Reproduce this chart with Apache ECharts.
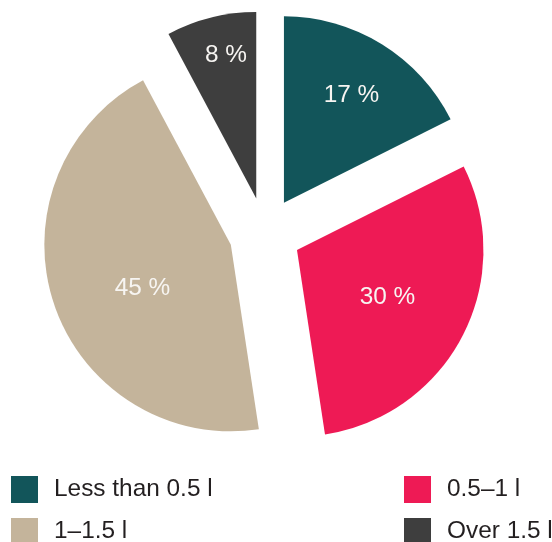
<!DOCTYPE html>
<html>
<head>
<meta charset="utf-8">
<script src="https://cdn.jsdelivr.net/npm/echarts@6/dist/echarts.min.js"></script>
<style>
html,body{margin:0;padding:0;background:#fff;}
#chart{width:552px;height:542px;}
</style>
</head>
<body>
<div id="chart"></div>
<script>
// Data (shares; labels show rounded values)
var categories = ['Less than 0.5 l', '0.5–1 l', '1–1.5 l', 'Over 1.5 l'];
var shares = [17.6, 30.0, 44.6, 7.8];
var shareLabels = ['17 %', '30 %', '45 %', '8 %'];

// Styles (not data)
var colors = ['#12555a', '#ee1a55', '#c4b49b', '#3e3e3e'];
var labelShift = [[17, -26], [5, 3], [3, 13], [-7, -50]];

var chart = echarts.init(document.getElementById('chart'), null, {renderer: 'canvas'});

var pieData = categories.map(function (c, i) {
  return {
    name: c,
    value: shares[i],
    selected: true,
    itemStyle: {color: colors[i]}
  };
});

var font = 'Liberation Sans, Arial, Helvetica, sans-serif';

var legendBase = {
  orient: 'vertical',
  icon: 'rect',
  itemWidth: 27,
  itemHeight: 27,
  itemGap: 15,
  top: 476,
  height: 90,
  padding: 0,
  selectedMode: false,
  textStyle: {fontFamily: font, fontSize: 24.4, color: '#231f20', padding: [0, 0, 0, 11]}
};

chart.setOption({
  animation: false,
  backgroundColor: '#ffffff',
  legend: [
    Object.assign({}, legendBase, {left: 11, data: [categories[0], categories[2]]}),
    Object.assign({}, legendBase, {left: 404, data: [categories[1], categories[3]]})
  ],
  series: [{
    type: 'pie',
    center: [265, 233.5],
    radius: [0, 186.5],
    startAngle: 90,
    clockwise: true,
    selectedMode: 'multiple',
    selectedOffset: 36,
    avoidLabelOverlap: false,
    silent: true,
    emphasis: {disabled: true},
    label: {
      show: true,
      position: 'inside',
      formatter: function (p) { return shareLabels[p.dataIndex]; },
      color: '#f7f5f2',
      fontFamily: font,
      fontSize: 24.4
    },
    labelLayout: function (p) {
      return {dx: labelShift[p.dataIndex][0], dy: labelShift[p.dataIndex][1]};
    },
    labelLine: {show: false},
    itemStyle: {borderWidth: 0},
    data: pieData
  }]
});
</script>
</body>
</html>
